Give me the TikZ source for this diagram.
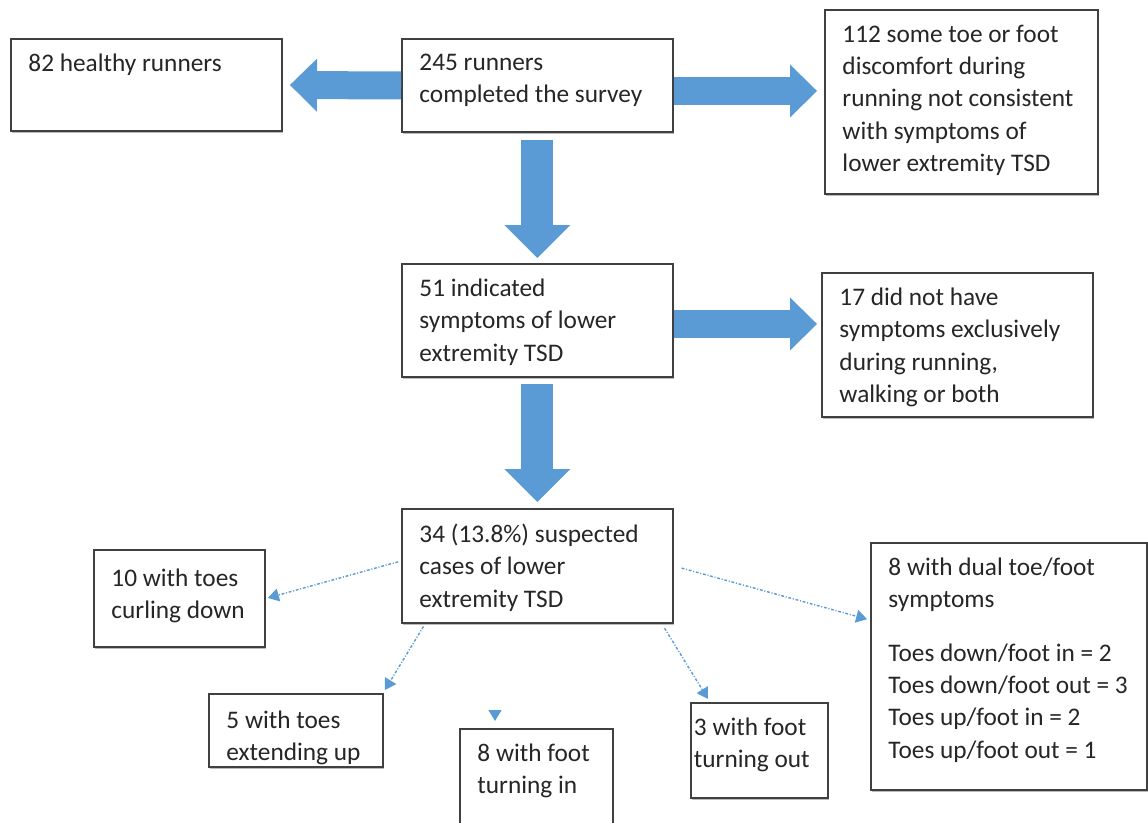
\documentclass[tikz,border=0pt]{standalone}
\usepackage{fontspec}
\setmainfont{Carlito}
\usepackage{tikz}
\usetikzlibrary{arrows.meta,positioning,shadows}
\definecolor{arrblue}{RGB}{91,155,213}
\newcommand{\boxfont}{\fontsize{14.4}{18.4}\selectfont}

\begin{document}
\begin{tikzpicture}[
    box/.style 2 args={draw=black!75, line width=1.1pt, fill=white, anchor=north west,
        drop shadow={shadow xshift=0.4pt,shadow yshift=-0.9pt,fill=black!45,opacity=0.6},
        inner xsep=0.35cm, inner ysep=0.3cm, font=\boxfont, text=black!85,
        execute at begin node={\begin{minipage}[t][#2][t]{#1}\raggedright},
        execute at end node={\end{minipage}}},
    bigarr/.style={color=arrblue, line width=0.56cm,
        -{Triangle[width=1.06cm,length=0.54cm,line width=0pt,fill=arrblue]}},
    downarr/.style={color=arrblue, line width=0.64cm,
        -{Triangle[width=1.32cm,length=0.66cm,line width=0pt,fill=arrblue]}},
    dotarr/.style={color=arrblue, line width=0.8pt,
        dash pattern=on 1.6pt off 1pt on 0.6pt off 1pt,
        -{Triangle[width=0.26cm,length=0.22cm,fill=arrblue]}}
  ]
    \useasboundingbox (0,0) rectangle (22.96,-16.44);

    % top row
    \node[box={4.72cm}{1.24cm}]  (n82)  at (0.2,-0.76)   {82 healthy runners};
    \node[box={4.72cm}{1.26cm}]  (n245) at (8.02,-0.76)  {245 runners\\completed the survey};
    \node[box={4.76cm}{3.08cm}]  (n112) at (16.48,-0.18) {112 some toe or foot\\discomfort during\\running not consistent\\with symptoms of\\lower extremity TSD};

    % middle row
    \node[box={4.72cm}{1.66cm}]  (n51)  at (8.02,-5.26)  {51 indicated\\symptoms of lower\\extremity TSD};
    \node[box={4.72cm}{2.28cm}]  (n17)  at (16.42,-5.44) {17 did not have\\symptoms exclusively\\during running,\\walking or both};

    % suspected cases
    \node[box={4.72cm}{1.68cm}]  (n34)  at (8.02,-10.16) {34 (13.8\%) suspected\\cases of lower\\extremity TSD};

    % subtypes
    \node[box={2.72cm}{1.34cm}]  (n10)  at (1.86,-10.98) {\vspace{2pt}10 with toes\\curling down};
    \node[box={2.78cm}{0.86cm}]  (n5)   at (4.16,-13.86) {\vspace{1pt}5 with toes\\extending up};
    \node[box={2.36cm}{1.50cm}]  (n8in) at (9.18,-14.56) {8 with foot\\turning in};
    \node[box={2.62cm}{1.30cm}, inner xsep=0.06cm] (n3) at (13.8,-14.04) {3 with foot\\turning out};
    \node[box={4.82cm}{4.34cm}]  (ndual) at (17.4,-10.84) {8 with dual toe/foot\\symptoms\\[0.42cm]Toes down/foot in = 2\\Toes down/foot out = 3\\Toes up/foot in = 2\\Toes up/foot out = 1};

    \coordinate (stub) at ([xshift=0.72cm,yshift=0.36cm]n8in.north west);

    \path[bigarr]
        (n245.west) edge [shorten >=0.14cm] (n82.east)
        ([yshift=-0.11cm]n245.east) edge [shorten >=0.14cm] ([yshift=-0.11cm]n245.east -| n112.west)
        ([yshift=-0.07cm]n51.east)  edge [shorten >=0.08cm] ([yshift=-0.07cm]n51.east -| n17.west);

    \path[downarr]
        (n245.south) edge [shorten <=0.14cm, shorten >=0.1cm]  (n51.north)
        (n51.south)  edge [shorten <=0.12cm, shorten >=0.12cm] (n34.north);

    \path[dotarr]
        ([yshift=0.1cm]n34.west) edge [shorten <=0.06cm, shorten >=0.04cm] (n10.east)
        ([xshift=0.48cm]n34.south west) edge [shorten <=0.06cm] ([xshift=0.02cm,yshift=0.06cm]n5.north east)
        ([xshift=-0.24cm]n34.south east) edge [shorten <=0.1cm] ([xshift=0.36cm,yshift=0.06cm]n3.north west)
        (n34.east) edge [shorten <=0.16cm, shorten >=0.06cm] ([yshift=-1.56cm]ndual.north west)
        (stub) edge [solid, shorten >=0.14cm] ([xshift=0.72cm]n8in.north west);
\end{tikzpicture}
\end{document}
